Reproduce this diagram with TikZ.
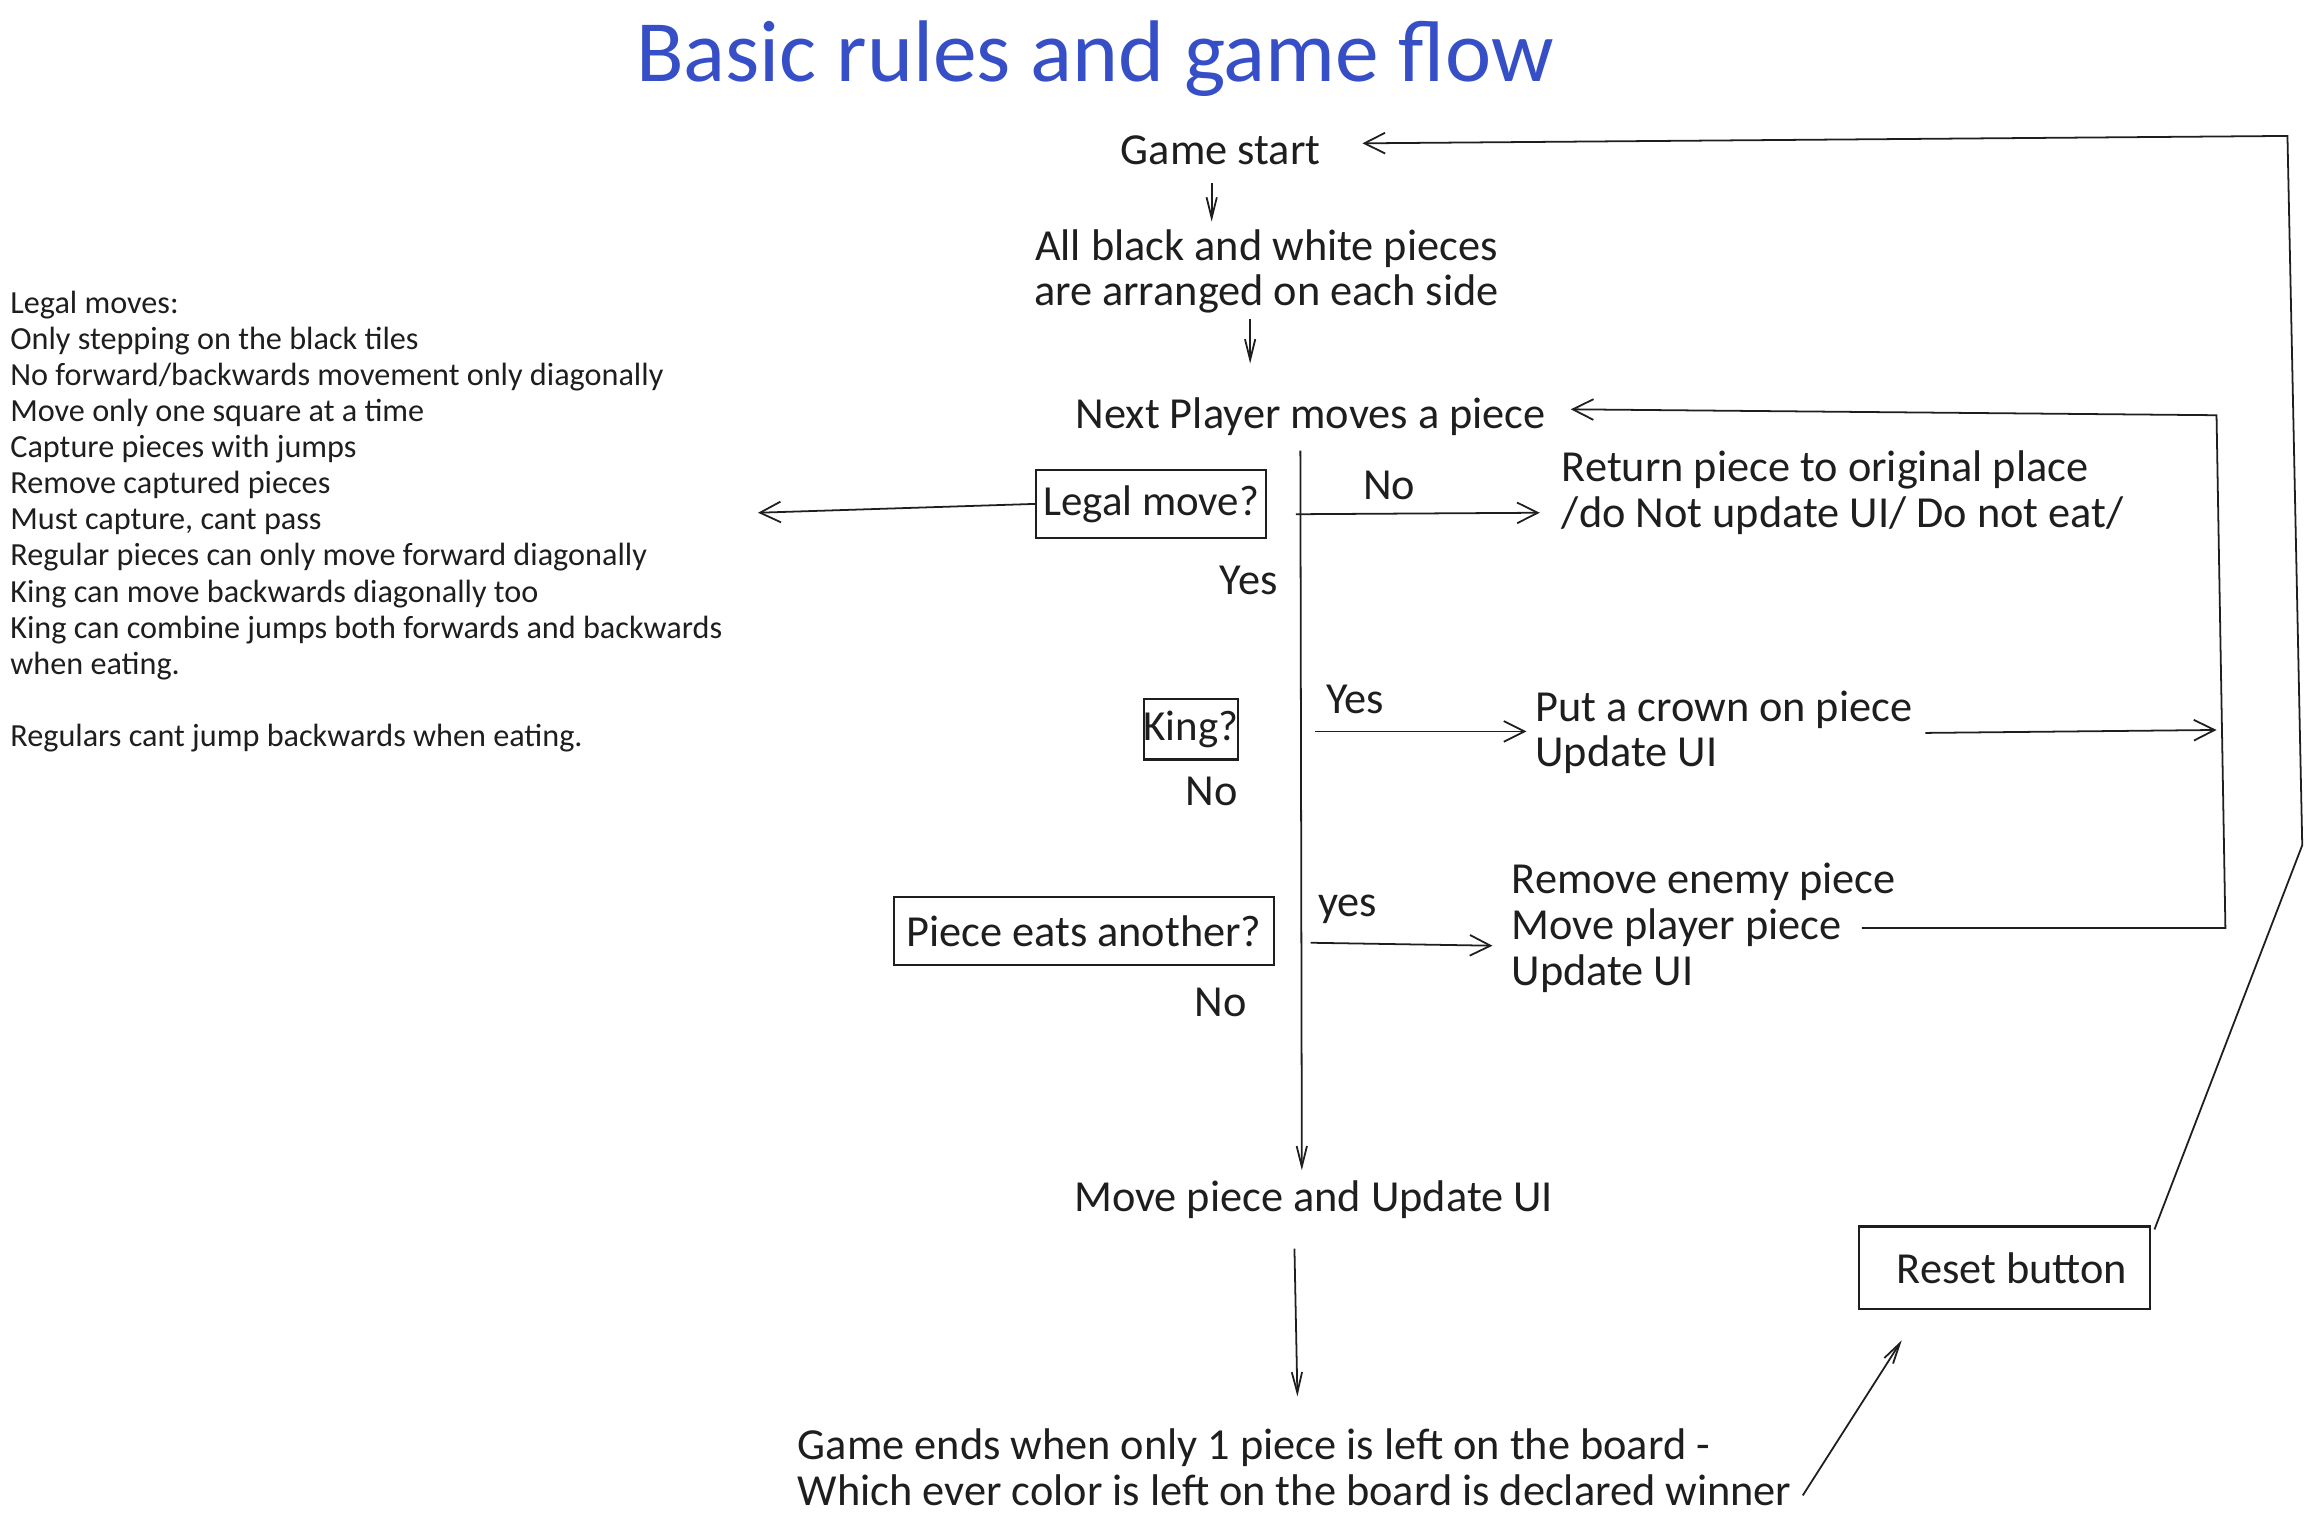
\documentclass[tikz,border=0pt]{standalone}
\usepackage{fontspec}
\setmainfont{Carlito}
\usetikzlibrary{arrows.meta}
\definecolor{titleblue}{RGB}{54,79,199}
\definecolor{ink}{RGB}{30,30,30}
\begin{document}
\begin{tikzpicture}[x=0.5pt,y=-0.5pt,
  every node/.style={inner sep=0pt, outer sep=0pt, text=ink},
  main/.style={font=\fontsize{15}{15.5}\selectfont, align=left},
  small/.style={font=\fontsize{10.9}{12.2}\selectfont, align=left},
  titlef/.style={font=\fontsize{29.6}{32}\selectfont, text=titleblue},
  box/.style={draw=ink, line width=0.75pt, main, align=center},
  conn/.style={draw=ink, line width=0.6pt},
  arr/.style={conn, -{Straight Barb[length=7pt, width=7pt]}},
  arrn/.style={conn, -{Straight Barb[length=7pt, width=3.5pt]}},
]
\useasboundingbox (0,0) rectangle (1568,1031);

% texts (anchor base = baseline of the last line)
\node[titlef, anchor=base] (title) at (741,55) {Basic rules and game flow};
\node[main, anchor=base] (gs) at (826,111) {Game start};
\node[main, anchor=base, align=center] (arrange) at (857,207) {All black and white pieces\\are arranged on each side};
\node[main, anchor=base] (np) at (887,290) {Next Player moves a piece};
\node[small, anchor=base west] (rules) at (7,505) {Legal moves:\\Only stepping on the black tiles\\No forward/backwards movement only diagonally\\Move only one square at a time\\Capture pieces with jumps\\Remove captured pieces\\Must capture, cant pass\\Regular pieces can only move forward diagonally\\King can move backwards diagonally too\\King can combine jumps both forwards and backwards\\when eating.\\[12.2pt]Regulars cant jump backwards when eating.};

\node[box, minimum width=78pt, minimum height=23pt] (legal) at (779,341) {\fontsize{14.5}{15}\selectfont Legal move?};
\node[main, anchor=base] (no1) at (940,338) {No};
\node[main, anchor=base west] (ret) at (1057,357) {Return piece to original place\\/do Not update UI/ Do not eat/};
\node[main, anchor=base] (yes1) at (845,402) {Yes};

\node[box, minimum width=31pt, minimum height=20.5pt] (king) at (806,493.5) {\fontsize{14.5}{15}\selectfont King?};
\node[main, anchor=base] (yes2) at (917,483) {Yes};
\node[main, anchor=base west] (crown) at (1039,519) {Put a crown on piece\\Update UI};
\node[main, anchor=base] (no2) at (820,545) {No};

\node[box, minimum width=128.5pt, minimum height=23pt] (eats) at (733.5,630) {Piece eats another?};
\node[main, anchor=base] (yes3) at (912,620) {yes};
\node[main, anchor=base west] (rem) at (1023,667) {Remove enemy piece\\Move player piece\\Update UI};
\node[main, anchor=base] (no3) at (826,688) {No};

\node[main, anchor=base] (mv) at (889,820) {Move piece and Update UI};
\node[main, anchor=base west] (end) at (540,1019) {Game ends when only 1 piece is left on the board -\\Which ever color is left on the board is declared winner};
\node[box, minimum width=98.5pt, minimum height=28pt] (reset) at (1356.5,858) {\hspace{5pt}Reset button};

% connector points
\coordinate (gsIn) at (922,97);
\coordinate (loopA) at (1558,572);
\coordinate (loopB) at (1548,92);
\coordinate (gsOut) at (820,124);
\coordinate (arrIn) at (820,150);
\coordinate (arrOut) at (846,216);
\coordinate (npIn0) at (846,246);
\coordinate (npIn) at (1063,277);
\coordinate (loopC) at (1500,281);
\coordinate (loopD) at (1506,628);
\coordinate (remOut) at (1260,628);
\coordinate (kingTo) at (1500,494);
\coordinate (crownOut) at (1303,496);
\coordinate (spineTop) at (880,305);
\coordinate (spineBot) at (881,792);
\coordinate (rulesIn) at (513,347);
\coordinate (noA) at (877,348);
\coordinate (noB) at (1042,347);
\coordinate (yesA) at (890,495);
\coordinate (yesB) at (1033,495);
\coordinate (yes3A) at (887,638);
\coordinate (yes3B) at (1010,640);
\coordinate (mvOut) at (876,845);
\coordinate (endIn) at (878,945);
\coordinate (endOut) at (1220,1012);
\coordinate (resetIn) at (1287,907);
\coordinate (resetOut) at (1458,832);

% connectors
\draw[arr] (resetOut) -- (loopA) -- (loopB) -- (gsIn);
\draw[arrn] (gsOut) -- (arrIn);
\draw[arrn] (arrOut) -- (npIn0);
\draw[arr] (remOut) -- (loopD) -- (loopC) -- (npIn);
\draw[arr] (crownOut) -- (kingTo);
\draw[arrn] (spineTop) -- (spineBot);
\draw[arr] (legal.west) -- (rulesIn);
\draw[arr] (noA) -- (noB);
\draw[arr] (yesA) -- (yesB);
\draw[arr] (yes3A) -- (yes3B);
\draw[arrn] (mvOut) -- (endIn);
\draw[arrn] (endOut) -- (resetIn);
\end{tikzpicture}
\end{document}
